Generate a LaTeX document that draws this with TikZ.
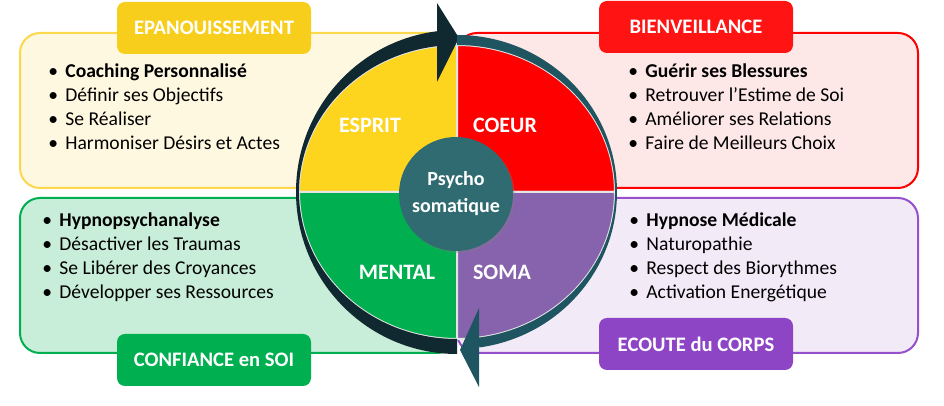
\documentclass[tikz,border=0pt]{standalone}
\usepackage{fontspec}
\setmainfont{Carlito}
\usetikzlibrary{calc,shadows}
\definecolor{jauneFonce}{HTML}{FDD51F}
\definecolor{jauneEtiq}{HTML}{F8CE1C}
\definecolor{jauneClair}{HTML}{FFF8E0}
\definecolor{jauneBord}{HTML}{FDD84C}
\definecolor{rougeVif}{HTML}{FF0000}
\definecolor{rougeEtiq}{HTML}{FF1313}
\definecolor{rougeClair}{HTML}{FDE7E7}
\definecolor{vertVif}{HTML}{00B050}
\definecolor{vertClair}{HTML}{C8EED9}
\definecolor{violetQuart}{HTML}{8763AD}
\definecolor{violetEtiq}{HTML}{8D45C5}
\definecolor{violetClair}{HTML}{F3EAF8}
\definecolor{violetBord}{HTML}{9650CC}
\definecolor{sarcelle}{HTML}{2F6B70}
\definecolor{flecheSombre}{HTML}{10282F}
\definecolor{flecheBleue}{HTML}{1F5461}
\newcommand{\puce}{\makebox[8.5pt][l]{\textbullet}}

\begin{document}
\begin{tikzpicture}[
    x=0.5pt, y=0.5pt,
    cadre/.style={rounded corners=10pt, line width=1pt},
    etiquette/.style={rectangle, rounded corners=4pt, minimum width=97pt, minimum height=26pt,
                      inner sep=0pt, text=white, font=\fontsize{10.3}{12}\selectfont\bfseries},
    liste/.style={anchor=north west, inner sep=0pt, align=left, font=\fontsize{9.8}{12}\selectfont},
    quartier/.style={text=white, font=\fontsize{11}{13}\selectfont\bfseries}
  ]
  \useasboundingbox (0,0) rectangle (944,406);
  \coordinate (centre) at (457,214);

  % cadres des quatre domaines
  \draw[cadre, draw=jauneBord, fill=jauneClair] (20,218) rectangle (457,373);
  \draw[cadre, draw=rougeVif, fill=rougeClair] (457,218) rectangle (918,373);
  \draw[cadre, draw=vertVif, fill=vertClair] (20,53) rectangle (457,208);
  \draw[cadre, draw=violetBord, fill=violetClair] (457,53) rectangle (918,208);

  \node[etiquette, fill=jauneEtiq] (epan) at (214,378) {EPANOUISSEMENT};
  \node[etiquette, fill=rougeEtiq] (bienv) at (696,379) {BIENVEILLANCE};
  \node[etiquette, fill=vertVif] (confi) at (214,46) {CONFIANCE en SOI};
  \node[etiquette, fill=violetEtiq] (ecoute) at (696,62) {ECOUTE du CORPS};

  \node[liste] (l-epan) at (48,346) {\begin{tabular}{@{}l@{}}
      \puce\textbf{Coaching Personnalisé}\\ \puce Définir ses Objectifs\\
      \puce Se Réaliser\\ \puce Harmoniser Désirs et Actes\end{tabular}};
  \node[liste] (l-bienv) at (628,346) {\begin{tabular}{@{}l@{}}
      \puce\textbf{Guérir ses Blessures}\\ \puce Retrouver l’Estime de Soi\\
      \puce Améliorer ses Relations\\ \puce Faire de Meilleurs Choix\end{tabular}};
  \node[liste] (l-confi) at (42,197) {\begin{tabular}{@{}l@{}}
      \puce\textbf{Hypnopsychanalyse}\\ \puce Désactiver les Traumas\\
      \puce Se Libérer des Croyances\\ \puce Développer ses Ressources\end{tabular}};
  \node[liste] (l-ecoute) at (629,197) {\begin{tabular}{@{}l@{}}
      \puce\textbf{Hypnose Médicale}\\ \puce Naturopathie\\
      \puce Respect des Biorythmes\\ \puce Activation Energétique\end{tabular}};

  % les quatre quartiers
  \foreach \deb/\fin/\coul in {90/180/jauneFonce, 0/90/rougeVif, 180/270/vertVif, 270/360/violetQuart} {
    \filldraw[fill=\coul, draw=gray!20, line width=1pt] (centre) -- ++(\deb:158 and 147)
      arc[start angle=\deb, end angle=\fin, x radius=158, y radius=147] -- cycle;
  }

  % fleches circulaires
  \fill[flecheSombre] ($(centre)+(270:161 and 162)$) arc[start angle=270, end angle=97, x radius=161, y radius=162]
    -- ($(centre)+(97:158 and 147)$) arc[start angle=97, end angle=270, x radius=158, y radius=147] -- cycle;
  \fill[flecheSombre] (437,403) -- (459,368) -- (437,324) -- cycle;
  \fill[flecheBleue] ($(centre)+(90:160 and 157)$) arc[start angle=90, end angle=-82, x radius=160, y radius=157]
    -- ($(centre)+(-82:158 and 147)$) arc[start angle=-82, end angle=90, x radius=158, y radius=147] -- cycle;
  \fill[flecheBleue] (479,98) -- (460,56) -- (479,19) -- cycle;

  \node[quartier] (esprit) at (370,281) {ESPRIT};
  \node[quartier] (coeur) at (505,281) {COEUR};
  \node[quartier] (mental) at (397,134) {MENTAL};
  \node[quartier] (soma) at (502,134) {SOMA};

  \node[circle, fill=sarcelle, minimum size=57pt, inner sep=0pt, align=center, text=white,
        font=\fontsize{10}{13.5}\selectfont\bfseries,
        drop shadow={shadow xshift=1pt, shadow yshift=-1pt, opacity=0.3}] (psycho) at (456,212) {Psycho\\somatique};
\end{tikzpicture}
\end{document}
